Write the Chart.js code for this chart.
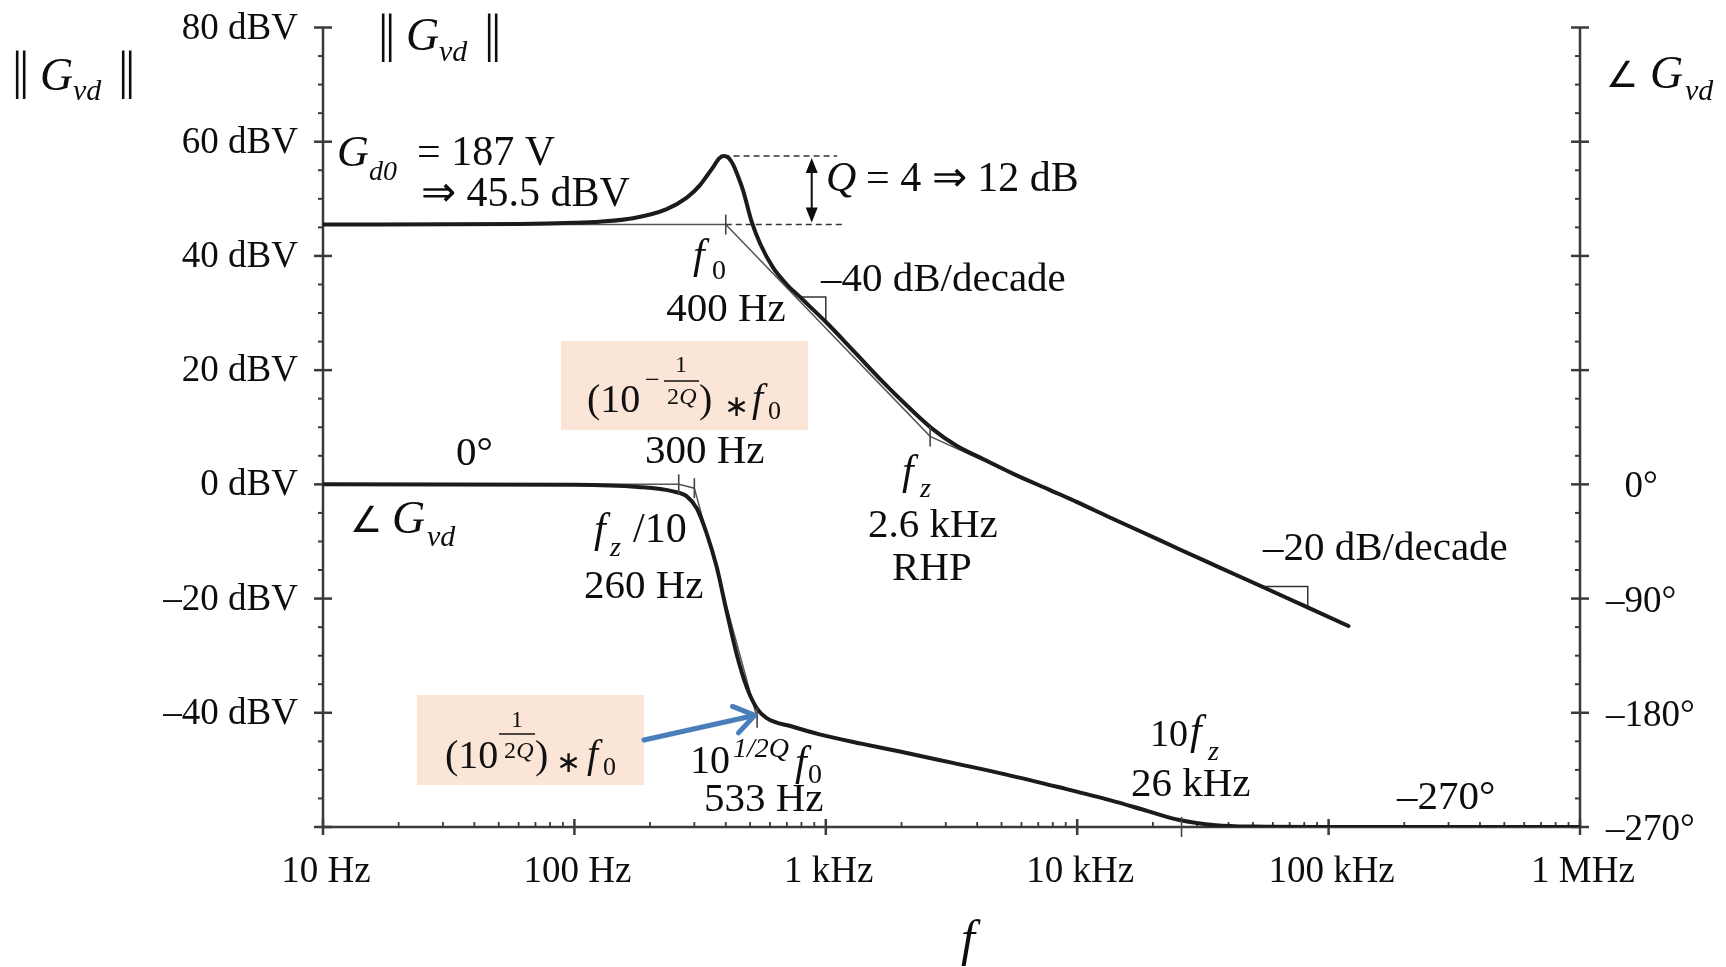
<!DOCTYPE html>
<html>
<head>
<meta charset="utf-8">
<title>Gvd Bode plot</title>
<script src="https://cdn.jsdelivr.net/npm/chart.js@4.4.1/dist/chart.umd.min.js"></script>
<style>
  html, body { margin: 0; padding: 0; background: #fff; }
  #wrap { width: 1726px; height: 967px; }
</style>
</head>
<body>
<div id="wrap"><canvas id="bode" width="1726" height="967"></canvas></div>
<script>
// magnitude ||Gvd|| in dBV
const magFreq = [10, 60, 100, 126, 171, 233, 280, 316, 340, 357, 375, 392, 410, 428, 447, 470, 507, 550, 618, 700,
  789, 1008, 1300, 1690, 2100, 2640, 3300, 4240, 5600, 7800, 10000, 13500, 18000, 25600, 36000, 54000, 82600, 120000];
const magDb = [45.5, 45.6, 45.8, 46.0, 46.6, 48.2, 50.2, 52.4, 54.3, 55.6, 57.0, 57.5, 57.2, 56.0, 54.0, 51.3, 46.0, 42.0, 37.9, 35.0,
  32.8, 28.3, 23.2, 17.9, 13.8, 9.8, 6.8, 4.4, 1.8, -1.0, -3.1, -5.8, -8.3, -11.4, -14.35, -17.85, -21.55, -24.8];

// phase of Gvd in degrees
const phaseFreq = [10, 100, 179, 247, 280, 307, 335, 368, 402, 441, 485, 530, 580, 740, 944,
  1400, 1970, 3200, 5180, 8400, 13600, 19100, 25500, 35600, 50000, 100000, 1000000];
const phaseDeg = [0, -0.3, -2, -5.5, -9.5, -19, -38, -65, -99, -133, -160, -176, -184, -191, -197,
  -204.5, -210.5, -219.5, -228.5, -238.5, -249, -257.5, -264.5, -268.6, -269.7, -270, -270];

// asymptotes
const magAsymFreq = [10, 400, 2600, 120000];
const magAsymDb = [45.5, 45.5, 8.4, -25.0];
const phaseAsymFreq = [10, 260, 300, 533];
const phaseAsymDeg = [0, 0, -3, -184];

// break points marked with a small tick
const magBreakFreq = [400, 2600];
const magBreakDb = [45.5, 8.4];
const phaseBreakFreq = [260, 300, 533, 26000];
const phaseBreakDeg = [0, -3, -184, -270];

// slope triangles
const slope40Freq = [790, 1000, 1000];
const slope40Db = [32.8, 32.8, 28.4];
const slope20Freq = [54200, 82600, 82600];
const slope20Db = [-17.9, -17.9, -21.55];

// resonant peak: Gd0 = 45.5 dBV, Q = 4 -> +12 dB
const gainDb = 45.5;
const peakDb = 57.5;
const peakDashFreq = [392, 1110];
const gainDashFreq = [400, 1170];
const qArrowFreq = 879;

// axis ticks
const freqTicks = [10, 100, 1000, 10000, 100000, 1000000];
const freqTickLabels = ['10 Hz', '100 Hz', '1 kHz', '10 kHz', '100 kHz', '1 MHz'];
const dbTicks = [80, 60, 40, 20, 0, -20, -40];
const dbTickLabels = ['80 dBV', '60 dBV', '40 dBV', '20 dBV', '0 dBV', '\u201320 dBV', '\u201340 dBV'];
const degTicks = [0, -90, -180, -270];
const degTickLabels = ['0\u00b0', '\u201390\u00b0', '\u2013180\u00b0', '\u2013270\u00b0'];

const SERIF = '"Liberation Serif", "Times New Roman", serif';
const INK = '#0d0d0d';
const AXIS = '#3a3a3a';

function pairs(xs, ys) {
  return xs.map((x, i) => ({ x: x, y: ys[i] }));
}
function fnt(size, italic) {
  return (italic ? 'italic ' : '') + size + 'px ' + SERIF;
}
function seg(ctx, x1, y1, x2, y2) {
  ctx.beginPath();
  ctx.moveTo(x1, y1);
  ctx.lineTo(x2, y2);
  ctx.stroke();
}

// [text, x, baseline, size, italic, align]
const labels = [
  ['|', 12, 88, 52], ['|', 19, 88, 52], ['G', 40, 90, 46, 1], ['vd', 73, 100, 30, 1], ['|', 118, 88, 52], ['|', 125, 88, 52],
  ['|', 378, 51, 52], ['|', 385, 51, 52], ['G', 406, 50, 46, 1], ['vd', 439, 61, 30, 1], ['|', 484, 51, 52], ['|', 491, 51, 52],
  ['\u2220', 1606, 87, 36], ['G', 1650, 88, 46, 1], ['vd', 1685, 100, 30, 1],
  ['\u2220', 350, 532, 36], ['G', 392, 533, 46, 1], ['vd', 427, 546, 30, 1],
  ['G', 337, 166, 44, 1], ['d0', 369, 180, 28, 1], ['= 187 V', 417, 165, 42],
  ['\u21d2 45.5 dBV', 421, 206, 42],
  ['Q', 826, 191, 42, 1], ['= 4 \u21d2 12 dB', 866, 191, 42],
  ['f', 693, 268, 42, 1], ['0', 712, 279, 28], ['400 Hz', 726, 321, 41, 0, 'center'],
  ['\u201340 dB/decade', 821, 291, 41],
  ['300 Hz', 645, 463, 41],
  ['0\u00b0', 456, 465, 41],
  ['f', 594, 542, 42, 1], ['z', 610, 556, 28, 1], ['/10', 633, 542, 42],
  ['260 Hz', 584, 598, 41],
  ['f', 902, 484, 42, 1], ['z', 920, 497, 28, 1],
  ['2.6 kHz', 868, 537, 41], ['RHP', 892, 580, 41],
  ['\u201320 dB/decade', 1263, 560, 41],
  ['10', 690, 773, 40], ['1/2Q', 733, 757, 28, 1], ['f', 795, 775, 42, 1], ['0', 808, 783, 28],
  ['533 Hz', 704, 811, 41],
  ['10', 1150, 746, 38], ['f', 1190, 744, 42, 1], ['z', 1208, 760, 28, 1],
  ['26 kHz', 1131, 796, 41],
  ['\u2013270\u00b0', 1397, 809, 41],
  ['f', 968, 955, 50, 1, 'center']
];

// highlighted formula boxes
const boxes = [
  { rect: [561, 341, 247, 89], bar: [664, 699, 381], runs: [
    ['(10', 587, 412, 40], ['\u2212', 645, 388, 26], ['1', 681, 372, 24, 0, 'center'],
    ['2', 673, 404, 24, 0, 'center'], ['Q', 688, 404, 24, 1, 'center'],
    [')', 699, 412, 40], ['\u2217', 724, 416, 30], ['f', 752, 411, 40, 1], ['0', 768, 419, 26]] },
  { rect: [417, 695, 227, 90], bar: [499, 535, 734], runs: [
    ['1', 517, 727, 24, 0, 'center'], ['(10', 445, 768, 40],
    ['2', 510, 758, 24, 0, 'center'], ['Q', 525, 758, 24, 1, 'center'],
    [')', 535, 768, 40], ['\u2217', 556, 772, 30], ['f', 587, 767, 40, 1], ['0', 603, 775, 26]] }
];

function drawText(ctx, l) {
  ctx.font = fnt(l[3], l[4]);
  ctx.textAlign = l[5] || 'left';
  ctx.fillText(l[0], l[1], l[2]);
}

const axesPlugin = {
  id: 'bodeAxes',
  beforeDatasetsDraw(chart) {
    const { ctx, chartArea: a, scales } = chart;
    const x = scales.x, y = scales.y, y2 = scales.y2;
    ctx.save();
    ctx.strokeStyle = AXIS;
    ctx.lineCap = 'butt';
    ctx.lineWidth = 2.5;
    seg(ctx, a.left, a.top, a.left, a.bottom);
    seg(ctx, a.right, a.top, a.right, a.bottom);
    seg(ctx, a.left, a.bottom, a.right, a.bottom);

    // left dB ticks, major every 20, minor every 5
    for (let v = -60; v <= 80; v += 5) {
      const py = y.getPixelForValue(v);
      if (v % 20 === 0) { ctx.lineWidth = 2.5; seg(ctx, a.left - 9, py, a.left + 9, py); }
      else { ctx.lineWidth = 2; seg(ctx, a.left - 5, py, a.left, py); }
    }
    // right phase ticks, major every 90, minor every 22.5
    for (let d = -270; d <= 360; d += 22.5) {
      const py = y2.getPixelForValue(d);
      if (d % 90 === 0) { ctx.lineWidth = 2.5; seg(ctx, a.right - 9, py, a.right + 9, py); }
      else { ctx.lineWidth = 2; seg(ctx, a.right - 5, py, a.right, py); }
    }
    // frequency ticks
    freqTicks.forEach((f, i) => {
      const px = x.getPixelForValue(f);
      ctx.lineWidth = 2.5;
      seg(ctx, px, a.bottom - 8, px, a.bottom + 8);
      if (i < freqTicks.length - 1) {
        ctx.lineWidth = 1.8;
        for (let m = 2; m <= 9; m++) {
          const mx = x.getPixelForValue(f * m);
          seg(ctx, mx, a.bottom - 5, mx, a.bottom);
        }
      }
    });

    ctx.fillStyle = INK;
    ctx.font = fnt(37);
    ctx.textAlign = 'right';
    dbTicks.forEach((v, i) => ctx.fillText(dbTickLabels[i], a.left - 25, y.getPixelForValue(v) + 11));
    ctx.textAlign = 'left';
    const dash = ctx.measureText('\u2013').width;
    degTicks.forEach((d, i) => {
      const tx = a.right + 26 + (d === 0 ? dash : 0);
      ctx.fillText(degTickLabels[i], tx, y2.getPixelForValue(d) + 13);
    });
    ctx.textAlign = 'center';
    freqTicks.forEach((f, i) => ctx.fillText(freqTickLabels[i], x.getPixelForValue(f) + 3, a.bottom + 55));
    ctx.restore();
  }
};

const notesPlugin = {
  id: 'bodeNotes',
  afterDatasetsDraw(chart) {
    const { ctx, scales } = chart;
    const x = scales.x, y = scales.y, y2 = scales.y2;
    ctx.save();

    // break point ticks on the asymptotes
    ctx.strokeStyle = '#444';
    ctx.lineWidth = 1.6;
    magBreakFreq.forEach((f, i) => {
      const px = x.getPixelForValue(f), py = y.getPixelForValue(magBreakDb[i]);
      seg(ctx, px, py - 10, px, py + 10);
    });
    phaseBreakFreq.forEach((f, i) => {
      const px = x.getPixelForValue(f), py = y2.getPixelForValue(phaseBreakDeg[i]);
      seg(ctx, px, py - 10, px, py + 10);
    });

    // Q double arrow between the peak and Gd0
    const ax = x.getPixelForValue(qArrowFreq);
    const yTop = y.getPixelForValue(peakDb) + 2;
    const yBot = y.getPixelForValue(gainDb) - 2;
    ctx.strokeStyle = INK;
    ctx.fillStyle = INK;
    ctx.lineWidth = 2;
    seg(ctx, ax, yTop + 12, ax, yBot - 12);
    ctx.beginPath();
    ctx.moveTo(ax, yTop); ctx.lineTo(ax - 6, yTop + 15); ctx.lineTo(ax + 6, yTop + 15); ctx.closePath();
    ctx.fill();
    ctx.beginPath();
    ctx.moveTo(ax, yBot); ctx.lineTo(ax - 6, yBot - 15); ctx.lineTo(ax + 6, yBot - 15); ctx.closePath();
    ctx.fill();

    // formula boxes
    boxes.forEach(b => {
      ctx.fillStyle = '#fbe5d6';
      ctx.fillRect(b.rect[0], b.rect[1], b.rect[2], b.rect[3]);
      ctx.fillStyle = '#111';
      ctx.strokeStyle = '#111';
      ctx.lineWidth = 1.6;
      seg(ctx, b.bar[0], b.bar[2], b.bar[1], b.bar[2]);
      b.runs.forEach(r => drawText(ctx, r));
    });

    // blue pointer to the 533 Hz corner
    const tipX = x.getPixelForValue(522), tipY = y2.getPixelForValue(-182);
    const tailX = 644, tailY = 740;
    const ang = Math.atan2(tipY - tailY, tipX - tailX);
    ctx.strokeStyle = '#4a7ebb';
    ctx.lineWidth = 5;
    ctx.lineCap = 'round';
    ctx.lineJoin = 'round';
    seg(ctx, tailX, tailY, tipX - 3 * Math.cos(ang), tipY - 3 * Math.sin(ang));
    ctx.beginPath();
    ctx.moveTo(tipX - 24 * Math.cos(ang - 0.6), tipY - 24 * Math.sin(ang - 0.6));
    ctx.lineTo(tipX, tipY);
    ctx.lineTo(tipX - 24 * Math.cos(ang + 0.6), tipY - 24 * Math.sin(ang + 0.6));
    ctx.stroke();

    ctx.fillStyle = INK;
    labels.forEach(l => drawText(ctx, l));
    ctx.restore();
  }
};

const curve = { borderColor: '#1b1b1b', borderWidth: 4, cubicInterpolationMode: 'monotone', borderJoinStyle: 'round', borderCapStyle: 'round' };
const thin = { borderColor: '#555', borderWidth: 1.5 };
const dashed = { borderColor: '#333', borderWidth: 1.5, borderDash: [6, 4] };

new Chart(document.getElementById('bode'), {
  type: 'line',
  data: {
    datasets: [
      Object.assign({ data: pairs(magFreq, magDb), yAxisID: 'y' }, curve),
      Object.assign({ data: pairs(phaseFreq, phaseDeg), yAxisID: 'y2' }, curve),
      Object.assign({ data: pairs(magAsymFreq, magAsymDb), yAxisID: 'y' }, thin),
      Object.assign({ data: pairs(phaseAsymFreq, phaseAsymDeg), yAxisID: 'y2' }, thin),
      Object.assign({ data: pairs(slope40Freq, slope40Db), yAxisID: 'y' }, thin, { borderColor: '#333' }),
      Object.assign({ data: pairs(slope20Freq, slope20Db), yAxisID: 'y' }, thin, { borderColor: '#333' }),
      Object.assign({ data: pairs(peakDashFreq, [peakDb, peakDb]), yAxisID: 'y' }, dashed),
      Object.assign({ data: pairs(gainDashFreq, [gainDb, gainDb]), yAxisID: 'y' }, dashed)
    ]
  },
  options: {
    responsive: false,
    animation: false,
    layout: { padding: { left: 323, right: 146, top: 27.5, bottom: 140 } },
    elements: { point: { radius: 0, hoverRadius: 0 } },
    plugins: { legend: { display: false }, tooltip: { enabled: false } },
    scales: {
      x: { type: 'logarithmic', min: 10, max: 1000000, display: false },
      y: { type: 'linear', min: -60, max: 80, display: false },
      y2: { type: 'linear', min: -270, max: 360, display: false }
    }
  },
  plugins: [axesPlugin, notesPlugin]
});
</script>
</body>
</html>
